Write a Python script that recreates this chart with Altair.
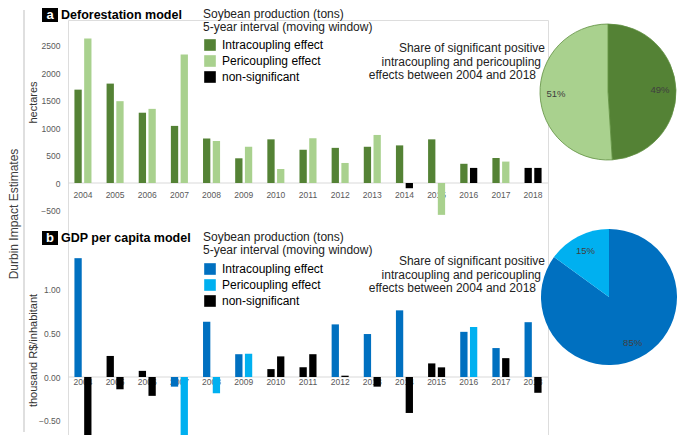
import altair as alt
import pandas as pd

years = [str(y) for y in range(2004, 2019)]
statuses = ["Intracoupling effect", "Pericoupling effect", "non-significant"]

# Panel a: deforestation model (hectares); first and second bar of each year
defor_first = [1700, 1810, 1280, 1040, 810, 450, 795, 605, 640, 660, 685, 795, 350, 455, 275]
defor_first_status = ["I", "I", "I", "I", "I", "I", "I", "I", "I", "I", "I", "I", "I", "I", "N"]
defor_second = [2630, 1490, 1350, 2340, 765, 660, 255, 815, 365, 875, -95, -580, 275, 390, 275]
defor_second_status = ["P", "P", "P", "P", "P", "P", "P", "P", "P", "P", "N", "P", "N", "P", "N"]

# Panel b: GDP per capita model (thousand R$/inhabitant)
gdp_first = [1.355, 0.24, 0.07, -0.11, 0.63, 0.26, 0.09, 0.11, 0.60, 0.49, 0.76, 0.155, 0.515, 0.33, 0.625]
gdp_first_status = ["I", "N", "N", "I", "I", "I", "N", "N", "I", "I", "I", "N", "I", "I", "I"]
gdp_second = [-0.72, -0.14, -0.215, -0.68, -0.185, 0.265, 0.235, 0.26, 0.015, -0.11, -0.41, 0.11, 0.57, 0.215, -0.18]
gdp_second_status = ["N", "N", "N", "P", "P", "P", "N", "N", "N", "N", "N", "N", "P", "N", "N"]

pie_parts = ["Intracoupling effect", "Pericoupling effect"]
pie_a_shares = [49, 51]
pie_b_shares = [85, 15]

a_y_ticks = [-500, 0, 500, 1000, 1500, 2000, 2500]
b_y_ticks = [-0.5, 0.0, 0.5, 1.0]

green = ["#548235", "#A9D18E", "#000000"]
blue = ["#0070C0", "#00B0F0", "#000000"]

code = {"I": statuses[0], "P": statuses[1], "N": statuses[2]}

W, H = 480, 415
OX, OY = 68, 20  # page position of the view origin


def vx(px):
    return px - OX


def vy(py):
    return py - OY


def bars_df(first, fs, second, ss):
    rows = []
    for i, y in enumerate(years):
        rows.append({"year": y, "slot": "1", "value": first[i], "status": code[fs[i]]})
        rows.append({"year": y, "slot": "2", "value": second[i], "status": code[ss[i]]})
    return pd.DataFrame(rows)


FONT = "Liberation Sans"
TICKFONT = "Liberation Sans"

x_enc = alt.X("year:N", sort=years, axis=None,
              scale=alt.Scale(paddingInner=0.47, paddingOuter=0.2))
xoff_enc = alt.XOffset("slot:N", scale=alt.Scale(paddingInner=0.25, paddingOuter=0))


def panel(df, domain, ticks, fmt, title, title_y, colors, legend_y, label_dy):
    yscale = alt.Scale(domain=domain, nice=False, zero=False)
    bars = alt.Chart(df).mark_bar().encode(
        x=x_enc,
        xOffset=xoff_enc,
        y=alt.Y("value:Q", scale=yscale,
                axis=alt.Axis(orient="left", values=ticks, format=fmt, title=title,
                              domain=False, ticks=False, tickSize=0, grid=False,
                              labelPadding=8, labelFont=TICKFONT, labelFontSize=8.5,
                              labelColor="#595959", titleFont=FONT, titleFontSize=11,
                              titleFontWeight="normal", titleColor="#333333",
                              titleAngle=270, titleAlign="center", titleBaseline="middle",
                              titleX=vx(33), titleY=title_y)),
        color=alt.Color("status:N", scale=alt.Scale(domain=statuses, range=colors),
                        legend=alt.Legend(orient="none", legendX=vx(204), legendY=legend_y,
                                          title=None, symbolType="square", symbolSize=135,
                                          labelFontSize=12, labelFont=FONT, labelColor="black",
                                          rowPadding=4, labelOffset=6, padding=0,
                                          symbolStrokeWidth=0)),
    )
    zero_df = pd.DataFrame({"value": [0]})
    base_rule = alt.Chart(zero_df).mark_rule(color="#d9d9d9", strokeWidth=1).encode(
        y=alt.Y("value:Q", scale=yscale), x=alt.value(0), x2=alt.value(W))
    lab_df = pd.DataFrame({"year": years, "value": [0] * len(years)})
    labels = alt.Chart(lab_df).mark_text(dy=label_dy, fontSize=8.5, font=TICKFONT,
                                         color="#595959", baseline="middle").encode(
        x=x_enc, y=alt.Y("value:Q", scale=yscale), text="year:N")
    return alt.layer(base_rule, labels, bars)


panel_a = panel(bars_df(defor_first, defor_first_status, defor_second, defor_second_status),
                [-4588, 2968], a_y_ticks, "d", "hectares", vy(102), green, vy(39), 12)
panel_b = panel(bars_df(gdp_first, gdp_first_status, gdp_second, gdp_second_status),
                [-0.6613, 4.0707], b_y_ticks, ".2f", "thousand R$/inhabitant", vy(350), blue,
                vy(263), 5)


def pie(shares, colors, cx, cy, stroke):
    df = pd.DataFrame({"part": pie_parts, "share": shares, "fill": colors[:2],
                       "order": [1, 2], "label": [f"{s}%" for s in shares]})
    base = alt.Chart(df).encode(theta=alt.Theta("share:Q", stack=True),
                                order=alt.Order("order:Q"),
                                x=alt.value(vx(cx)), y=alt.value(vy(cy)))
    kw = {"stroke": stroke, "strokeWidth": 0.8} if stroke else {"strokeWidth": 0}
    arc = base.mark_arc(outerRadius=68, **kw).encode(color=alt.Color("fill:N", scale=None))
    txt = base.mark_text(radius=52, fontSize=9.5, font=TICKFONT, color="#404040").encode(
        text="label:N")
    return alt.layer(arc, txt)


pie_a = pie(pie_a_shares, green, 608, 92, "#5f8f40")
pie_b = pie(pie_b_shares, blue, 609, 297, None)


def note(text, px, py, **kw):
    return alt.Chart(pd.DataFrame({"t": [text]})).mark_text(baseline="middle", **kw).encode(
        text="t:N", x=alt.value(vx(px)), y=alt.value(vy(py)))


def box(px1, px2, py1, py2):
    return alt.Chart(pd.DataFrame({"t": [""]})).mark_rect(color="black").encode(
        x=alt.value(vx(px1)), x2=alt.value(vx(px2)), y=alt.value(vy(py1)), y2=alt.value(vy(py2)))


share_lines = ["Share of significant positive", "intracoupling and pericoupling",
               "effects between 2004 and 2018"]
share_right = [545, 541, 536]

notes = []
for offs, letter, model in [(0, "a", "Deforestation model"), (223, "b", "GDP per capita model")]:
    notes.append(box(42, 58, 8 + offs, 22 + offs))
    notes.append(note(letter, 50, 14.5 + offs, align="center", font=FONT, fontSize=13,
                      fontWeight="bold", color="white"))
    notes.append(note(model, 61, 14.5 + offs, align="left", font=FONT, fontSize=12.5,
                      fontWeight="bold", color="black"))
    notes.append(note("Soybean production (tons)", 203, 14 + offs, align="left", font=FONT,
                      fontSize=12, color="#222222"))
    notes.append(note("5-year interval (moving window)", 203, 27 + offs, align="left",
                      font=FONT, fontSize=12, color="#222222"))
for offs in [0, 213]:
    for i, line in enumerate(share_lines):
        notes.append(note(line, share_right[i], 48 + 13.5 * i + offs, align="right",
                          font=FONT, fontSize=12, color="#222222"))

notes.append(note("Durbin Impact Estimates", 14, 214, align="center", angle=270,
                  font=FONT, fontSize=12, color="#404040"))
bracket = alt.Chart(pd.DataFrame({"t": [""]})).mark_rule(color="#bfbfbf", strokeWidth=1).encode(
    x=alt.value(vx(24)), y=alt.value(vy(10)), y2=alt.value(vy(432)))

chart = alt.layer(panel_a, panel_b, pie_a, pie_b, bracket, *notes).resolve_scale(
    y="independent", color="independent", theta="independent"
).properties(
    width=W, height=H,
    padding={"left": OX - 8, "top": OY - 8, "right": 669 - (OX - 8) - W, "bottom": 0},
    autosize=alt.AutoSizeParams(type="none"),
).configure_view(strokeWidth=0).configure(background="white")

chart.save("out.html", embed_options={"renderer": "svg", "actions": False})
